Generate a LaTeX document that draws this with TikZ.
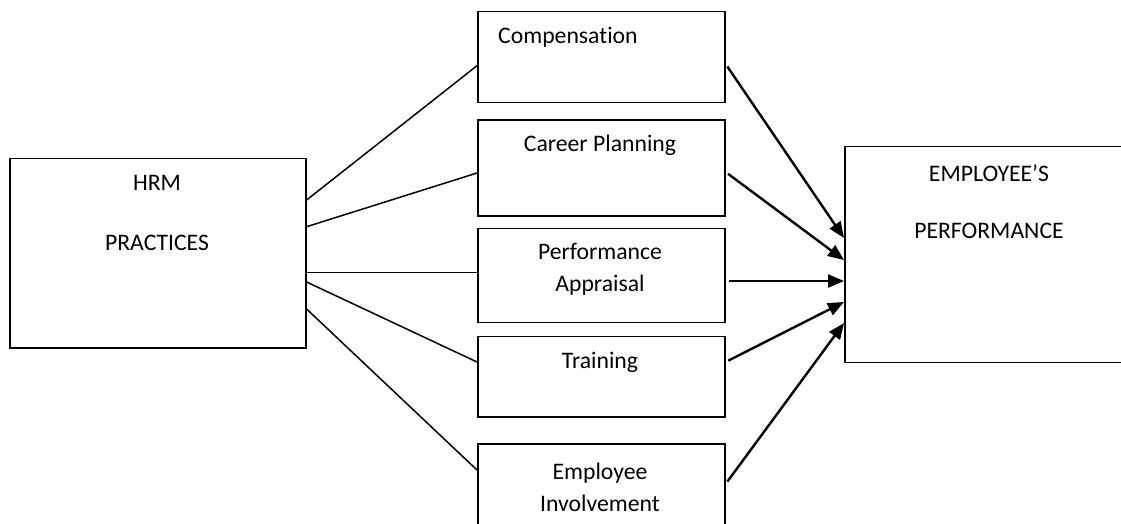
\documentclass[tikz,border=0pt]{standalone}
\usepackage{fontspec}
\setmainfont[Ligatures={NoCommon}]{Carlito}
\usetikzlibrary{arrows.meta}
\begin{document}
\begin{tikzpicture}[x=1pt,y=-1pt,
  box/.style={draw=black,line width=1.6pt,rectangle,inner sep=0pt,anchor=north west},
  lbl/.style={font=\fontsize{23.7}{32}\selectfont,inner sep=0pt,align=center},
  link/.style={draw=black,line width=1.5pt},
  arr/.style={draw=black,line width=2.4pt,-{Triangle[length=16pt,width=13pt]}}]
\useasboundingbox (0,0) rectangle (1121,523);
% boxes
\node[box,minimum width=296pt,minimum height=189.5pt] (hrm) at (9,157.5) {};
\node[box,minimum width=247pt,minimum height=91pt] (comp) at (477,10.5) {};
\node[box,minimum width=247pt,minimum height=96pt] (career) at (477,119) {};
\node[box,minimum width=247pt,minimum height=94pt] (pa) at (477,227.5) {};
\node[box,minimum width=247pt,minimum height=80.5pt] (train) at (477,335.5) {};
\node[box,minimum width=247pt,minimum height=100pt] (ei) at (477,443) {};
\node[box,minimum width=300pt,minimum height=216pt] (ep) at (844,145.7) {};
% texts
\node[lbl] (hrmA) at (157,183) {HRM};
\node[lbl] (hrmB) at (157,243) {PRACTICES};
\node[lbl,anchor=west] (compT) at (498,37) {Compensation};
\node[lbl] (careerT) at (600,145) {Career Planning};
\node[lbl] (paT) at (600,269) {Performance\\Appraisal};
\node[lbl] (trainT) at (600,362) {Training};
\node[lbl] (eiT) at (600,487) {Employee\\Involvement};
\node[lbl] (epA) at (989,173) {EMPLOYEE’S};
\node[lbl] (epB) at (989,231) {PERFORMANCE};
% links
\draw[link] (hrm.east |- 0,200) -- (comp.west |- 0,65.7);
\draw[link] (hrm.east |- 0,226.7) -- (career.west |- 0,173);
\draw[link] (hrm.east |- 0,272.7) -- (pa.west |- 0,272.7);
\draw[link] (hrm.east |- 0,282) -- (train.west |- 0,362);
\draw[link] (hrm.east |- 0,309) -- (ei.west |- 0,470);
% arrows
\draw[arr,shorten <=3pt] (comp.east |- 0,64) -- (ep.west |- 0,238);
\draw[arr,shorten <=3pt] (career.east |- 0,172) -- (ep.west |- 0,260);
\draw[arr,shorten <=3pt] (pa.east |- 0,281) -- (ep.west |- 0,281);
\draw[arr,shorten <=3pt] (train.east |- 0,362) -- (ep.west |- 0,302);
\draw[arr,shorten <=3pt] (ei.east |- 0,484) -- (ep.west |- 0,323);
\end{tikzpicture}
\end{document}
